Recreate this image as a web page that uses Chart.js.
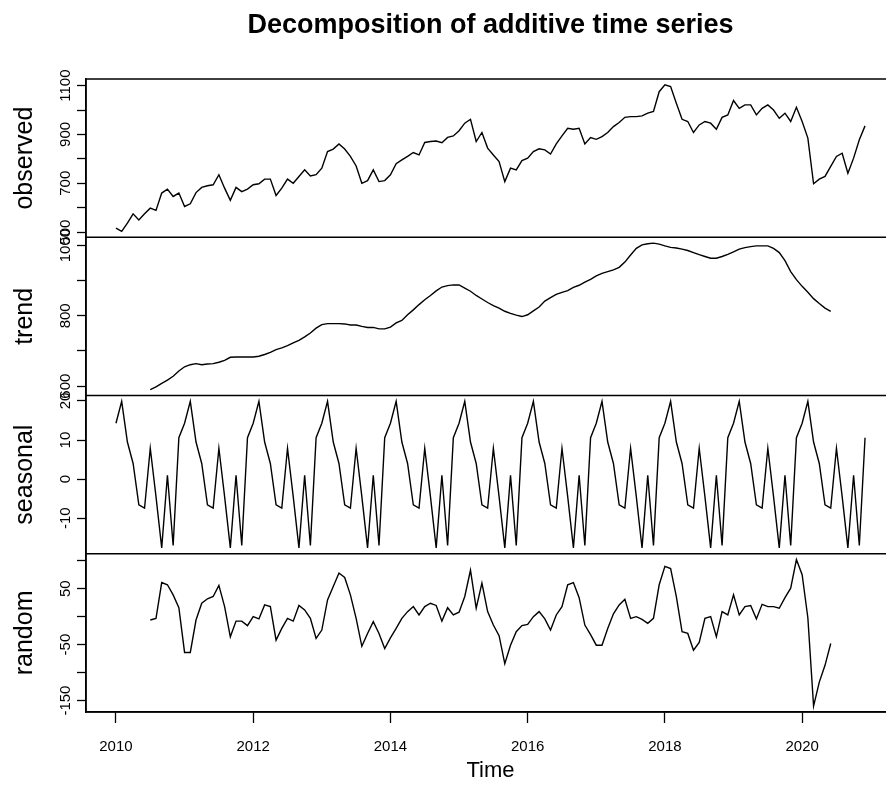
<!DOCTYPE html>
<html>
<head>
<meta charset="utf-8">
<title>Decomposition of additive time series</title>
<script src="https://cdn.jsdelivr.net/npm/chart.js@4.4.1/dist/chart.umd.min.js"></script>
<style>
  html, body { margin: 0; padding: 0; background: #fff; overflow: hidden; }
  #wrap { width: 886px; height: 798px; overflow: hidden; }
  canvas { display: block; }
</style>
</head>
<body>
<div id="wrap"><canvas id="decomp" width="895" height="798"></canvas></div>
<script>
// ---- monthly series, Jan 2010 .. Dec 2020 ----
const startYear = 2010;

const observed = [
  516, 503, 537, 575, 550, 575, 598, 589, 660, 676, 646, 660,
  605, 616, 662, 683, 690, 694, 735, 680, 630, 683, 666, 676,
  694, 698, 717, 717, 650, 680, 717, 700, 728, 755, 730, 735,
  762, 830, 840, 861, 840, 810, 771, 700, 711, 755, 707, 711,
  735, 780, 796, 810, 826, 816, 867, 871, 873, 866, 888, 894,
  915, 946, 962, 871, 908, 844, 816, 789, 707, 762, 755, 793,
  803, 830, 841, 837, 820, 861, 894, 925, 921, 925, 861, 887,
  880, 891, 908, 932, 949, 970, 973, 973, 976, 987, 994, 1075,
  1103, 1096, 1028, 962, 953, 908, 939, 953, 946, 921, 970, 980,
  1039, 1007, 1021, 1021, 980, 1007, 1021, 1000, 966, 987, 953, 1011,
  953, 885, 698, 717, 728, 769, 810, 823, 741, 803, 878, 935
];

// centred moving average: undefined for the first and last six months
const trend = [
  null, null, null, null, null, null, 590, 598, 608, 617, 628, 643,
  655, 661, 664, 661, 663, 664, 668, 673, 682, 683, 683, 683,
  683, 685, 690, 696, 704, 709, 715, 723, 730, 740, 751, 765,
  775, 778, 778, 778, 777, 774, 774, 770, 767, 767, 763, 763,
  768, 780, 787, 803, 817, 832, 846, 858, 871, 882, 886, 888,
  888, 879, 870, 858, 848, 838, 829, 822, 813, 807, 802, 798,
  803, 814, 825, 842, 852, 861, 867, 872, 881, 887, 896, 904,
  914, 921, 926, 931, 938, 953, 973, 992, 1002, 1005, 1007, 1004,
  999, 995, 993, 990, 986, 980, 974, 969, 964, 964, 969, 975,
  982, 990, 994, 997, 999, 999, 999, 992, 980, 957, 926, 903,
  884, 867, 849, 835, 822, 813, null, null, null, null, null, null
];

const seasonal = [
  14.3, 19.9, 9.5, 4.0, -6.6, -7.4, 7.9, -4.5, -17.6, 1.0, -17.0, 10.6,
  14.3, 19.9, 9.5, 4.0, -6.6, -7.4, 7.9, -4.5, -17.6, 1.0, -17.0, 10.6,
  14.3, 19.9, 9.5, 4.0, -6.6, -7.4, 7.9, -4.5, -17.6, 1.0, -17.0, 10.6,
  14.3, 19.9, 9.5, 4.0, -6.6, -7.4, 7.9, -4.5, -17.6, 1.0, -17.0, 10.6,
  14.3, 19.9, 9.5, 4.0, -6.6, -7.4, 7.9, -4.5, -17.6, 1.0, -17.0, 10.6,
  14.3, 19.9, 9.5, 4.0, -6.6, -7.4, 7.9, -4.5, -17.6, 1.0, -17.0, 10.6,
  14.3, 19.9, 9.5, 4.0, -6.6, -7.4, 7.9, -4.5, -17.6, 1.0, -17.0, 10.6,
  14.3, 19.9, 9.5, 4.0, -6.6, -7.4, 7.9, -4.5, -17.6, 1.0, -17.0, 10.6,
  14.3, 19.9, 9.5, 4.0, -6.6, -7.4, 7.9, -4.5, -17.6, 1.0, -17.0, 10.6,
  14.3, 19.9, 9.5, 4.0, -6.6, -7.4, 7.9, -4.5, -17.6, 1.0, -17.0, 10.6,
  14.3, 19.9, 9.5, 4.0, -6.6, -7.4, 7.9, -4.5, -17.6, 1.0, -17.0, 10.6
];

const random = [
  null, null, null, null, null, null, -6, -3, 61, 57, 39, 16,
  -64, -64, -6, 24, 32, 36, 56, 18, -36, -8, -8, -16,
  0, -4, 21, 18, -42, -21, -3, -8, 20, 12, -3, -39,
  -24, 30, 54, 78, 70, 39, -3, -53, -30, -9, -30, -57,
  -38, -21, -3, 9, 18, 3, 18, 24, 20, -8, 16, 3,
  8, 36, 83, 15, 60, 9, -15, -34, -84, -51, -27, -16,
  -14, 0, 9, -4, -24, 3, 18, 57, 61, 34, -15, -32,
  -51, -51, -21, 5, 21, 31, -3, 0, -5, -12, -3, 57,
  90, 86, 36, -27, -30, -60, -46, -3, 0, -36, 9, 3,
  39, 3, 18, 20, -4, 22, 18, 18, 15, 34, 51, 102,
  75, -2, -160, -117, -87, -48, null, null, null, null, null, null
];

// ---- axis ticks and which of them carry a label ----
const yearTicks      = [2010, 2012, 2014, 2016, 2018, 2020];
const observedTicks  = [500, 600, 700, 800, 900, 1000, 1100];
const observedLabels = [500, 700, 900, 1100];
const trendTicks     = [600, 700, 800, 900, 1000];
const trendLabels    = [600, 800, 1000];
const seasonalTicks  = [-10, 0, 10, 20];
const seasonalLabels = [-10, 0, 10, 20];
const randomTicks    = [-150, -100, -50, 0, 50, 100];
const randomLabels   = [-150, -50, 50];

const FONT = '"Liberation Sans", Arial, Helvetica, sans-serif';
const TICK_SIZE = 15;
const AXIS_W = 86;     // room left of the panels
const LABEL_GAP = 20;  // axis line -> centre of the rotated tick labels
const TICK_LEN = 9;

const time = observed.map((_, i) => startYear + i / 12);
const points = series => series.map((v, i) => ({ x: time[i], y: v }));

// extend the data range by 4% on each side, as base R does
function paddedRange(series) {
  const vals = series.filter(v => v !== null);
  const lo = Math.min(...vals), hi = Math.max(...vals);
  const pad = (hi - lo) * 0.04;
  return { min: lo - pad, max: hi + pad };
}

const measure = document.createElement('canvas').getContext('2d');
measure.font = TICK_SIZE + 'px ' + FONT;

function panelAxis(name, series, ticks, labels, weight) {
  const range = paddedRange(series);
  const widest = Math.max(...labels.map(v => measure.measureText(String(v)).width));
  return {
    type: 'linear',
    position: 'left',
    stack: 'panels',
    stackWeight: 1,
    weight: weight,
    min: range.min,
    max: range.max,
    afterBuildTicks: s => { s.ticks = ticks.map(v => ({ value: v })); },
    afterFit: s => { s.width = AXIS_W; },
    grid: { drawOnChartArea: false, tickLength: TICK_LEN, tickWidth: 1.3, tickColor: '#000' },
    border: { display: true, color: '#000', width: 1.5 },
    ticks: {
      autoSkip: false,
      minRotation: 90,
      maxRotation: 90,
      crossAlign: 'center',
      padding: LABEL_GAP - TICK_LEN - widest / 2,
      color: '#000',
      font: { family: FONT, size: TICK_SIZE },
      callback: v => labels.includes(v) ? String(v) : ''
    },
    title: {
      display: true, text: name, color: '#000',
      font: { family: FONT, size: 25 },
      padding: { top: 10, bottom: 0 }
    }
  };
}

const line = (series, axis) => ({
  data: points(series),
  yAxisID: axis,
  borderColor: '#000',
  borderWidth: 1.4,
  pointRadius: 0,
  tension: 0,
  spanGaps: false
});

// top, bottom and left edge of every panel; the right edge falls outside the page
const panelFrames = {
  id: 'panelFrames',
  afterDatasetsDraw(chart) {
    const { ctx, chartArea } = chart;
    ctx.save();
    ctx.strokeStyle = '#000';
    ctx.lineWidth = 1.5;
    ctx.beginPath();
    ['yObs', 'yTrend', 'ySeas', 'yRand'].forEach(id => {
      const s = chart.scales[id];
      ctx.moveTo(chartArea.right, s.top);
      ctx.lineTo(chartArea.left, s.top);
      ctx.lineTo(chartArea.left, s.bottom);
      ctx.lineTo(chartArea.right, s.bottom);
    });
    ctx.stroke();
    ctx.restore();
  }
};

const xRange = paddedRange(time);

new Chart(document.getElementById('decomp'), {
  type: 'line',
  data: {
    datasets: [
      line(observed, 'yObs'),
      line(trend, 'yTrend'),
      line(seasonal, 'ySeas'),
      line(random, 'yRand')
    ]
  },
  options: {
    responsive: false,
    animation: false,
    events: [],
    layout: { padding: 0 },
    plugins: {
      legend: { display: false },
      tooltip: { enabled: false },
      title: {
        display: true,
        fullSize: false,
        text: 'Decomposition of additive time series',
        color: '#000',
        font: { family: FONT, size: 27, weight: 'bold' },
        padding: { top: 9, bottom: 37.6 }
      }
    },
    scales: {
      x: {
        type: 'linear',
        min: xRange.min,
        max: xRange.max,
        afterBuildTicks: s => { s.ticks = yearTicks.map(v => ({ value: v })); },
        afterFit: s => { s.height = 86; },
        grid: { drawOnChartArea: false, tickLength: 11, tickWidth: 1.3, tickColor: '#000' },
        border: { display: true, color: '#000', width: 1.5 },
        ticks: {
          autoSkip: false, maxRotation: 0, padding: 15, color: '#000',
          font: { family: FONT, size: TICK_SIZE },
          callback: v => String(v)
        },
        title: {
          display: true, text: 'Time', color: '#000',
          font: { family: FONT, size: 22 },
          padding: { top: 0, bottom: 14 }
        }
      },
      yObs:   panelAxis('observed', observed, observedTicks, observedLabels, 4),
      yTrend: panelAxis('trend', trend, trendTicks, trendLabels, 3),
      ySeas:  panelAxis('seasonal', seasonal, seasonalTicks, seasonalLabels, 2),
      yRand:  panelAxis('random', random, randomTicks, randomLabels, 1)
    }
  },
  plugins: [panelFrames]
});
</script>
</body>
</html>
